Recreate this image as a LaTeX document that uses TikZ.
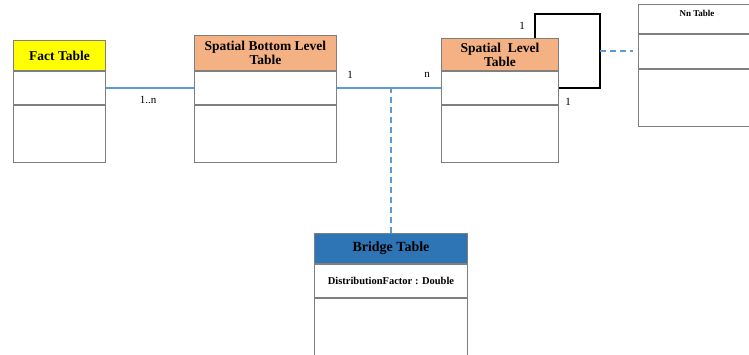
\documentclass[tikz,border=0pt]{standalone}
\usepackage{fontspec}
\setmainfont{Liberation Serif}
\definecolor{boxline}{HTML}{7F7F7F}
\definecolor{conncol}{HTML}{5B9BD5}
\definecolor{orangehdr}{HTML}{F4B183}
\definecolor{bluehdr}{HTML}{2E75B6}
\definecolor{yellowhdr}{HTML}{FFFF00}
\begin{document}
\begin{tikzpicture}[x=1pt,y=-1pt,
  hdr/.style={draw=boxline, line width=0.9pt, anchor=north west, inner sep=1pt, align=center, font=\bfseries\fontsize{13.5}{14}\selectfont},
  cmp/.style={draw=boxline, line width=0.9pt, anchor=north, inner sep=1pt, align=center},
  conn/.style={draw=conncol, line width=1.5pt},
  dashconn/.style={draw=conncol, line width=1.8pt, dash pattern=on 6pt off 4pt},
  selfloop/.style={draw=black, line width=1.6pt},
  lbl/.style={font=\fontsize{11}{12}\selectfont, inner sep=0pt}
]
\useasboundingbox (0,0) rectangle (749,354);
\clip (0,0) rectangle (749,354);
\fill[white] (0,0) rectangle (749,354);

% Fact Table
\node[hdr, fill=yellowhdr, minimum width=92, minimum height=30] (facth) at (13,40) {Fact Table};
\node[cmp, minimum width=92, minimum height=33] (fact1) at (facth.south) {};
\node[cmp, minimum width=92, minimum height=57] (fact2) at (fact1.south) {};

% Spatial Bottom Level Table
\node[hdr, fill=orangehdr, minimum width=142, minimum height=35] (sbh) at (194,35) {Spatial Bottom Level\\Table};
\node[cmp, minimum width=142, minimum height=33] (sb1) at (sbh.south) {};
\node[cmp, minimum width=142, minimum height=57] (sb2) at (sb1.south) {};

% Spatial Level Table
\node[hdr, fill=orangehdr, minimum width=117, minimum height=32] (slh) at (441,38) {Spatial~~Level\\Table};
\node[cmp, minimum width=117, minimum height=33] (sl1) at (slh.south) {};
\node[cmp, minimum width=117, minimum height=57] (sl2) at (sl1.south) {};

% Nn Table
\node[hdr, fill=white, minimum width=118, minimum height=29, anchor=north west] (nnh) at (638,4) {};
\node[font=\bfseries\fontsize{9}{10}\selectfont, inner sep=0pt] (nnt) at (697,13) {Nn Table};
\node[cmp, minimum width=118, minimum height=34] (nn1) at (nnh.south) {};
\node[cmp, minimum width=118, minimum height=57] (nn2) at (nn1.south) {};

% Bridge Table
\node[hdr, fill=bluehdr, minimum width=153, minimum height=30, font=\bfseries\fontsize{14}{15}\selectfont] (brh) at (314,233) {Bridge Table};
\node[cmp, minimum width=153, minimum height=33, font=\bfseries\fontsize{10.5}{11}\selectfont] (br1) at (brh.south) {DistributionFactor : Double};
\node[cmp, minimum width=153, minimum height=62] (br2) at (br1.south) {};

% Connectors
\draw[conn] (fact1.east) -- (fact1.east -| sb1.west);
\draw[conn] (sb1.east) -- (sb1.east -| sl1.west);
\draw[dashconn] (brh.north) -- (brh.north |- sb1.east);
\coordinate (loopr) at ([xshift=41pt]sl1.east);
\draw[selfloop] ([xshift=-24pt]slh.north east) -- ++(0,-24) -| (loopr) -- (sl1.east);
\draw[dashconn] ([yshift=0.5pt]nn1.west -| loopr) -- ([xshift=-5pt,yshift=0.5pt]nn1.west);

% Labels
\node[lbl] (l1n) at (148,100) {1..n};
\node[lbl] (l1a) at (350,75) {1};
\node[lbl] (lna) at (427,75) {n};
\node[lbl] (l1b) at (522,26) {1};
\node[lbl] (l1c) at (568,102) {1};
\end{tikzpicture}
\end{document}
